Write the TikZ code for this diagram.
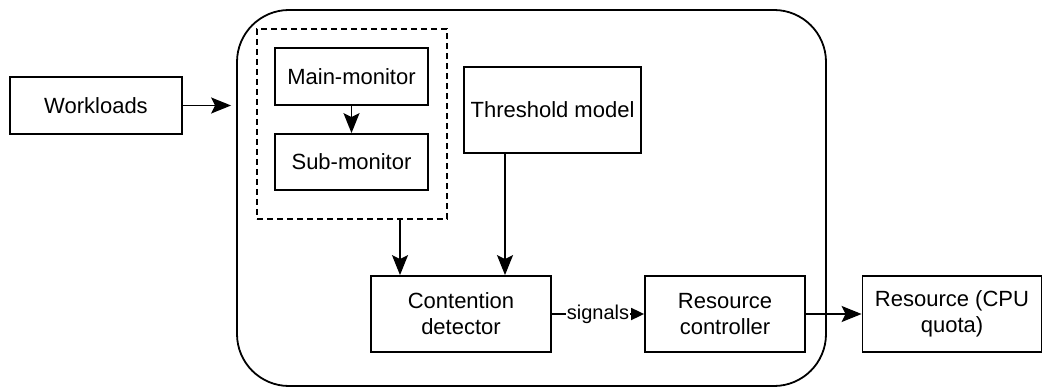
\documentclass[tikz,border=0pt]{standalone}
\usepackage{fontspec}
\setmainfont{Liberation Sans}
\usetikzlibrary{arrows.meta}
\tikzset{
	box/.style={draw,line width=1.8pt,align=center,inner sep=0pt},
	link/.style={line width=1.8pt,-{Stealth[length=20pt,width=16pt,inset=4pt]}},
}
\begin{document}
\begin{tikzpicture}[x=1pt,y=-1pt,font=\fontsize{22}{26}\selectfont]
		\useasboundingbox (0,0) rectangle (1043,387);
		\node[box,rounded corners=52pt,minimum width=589pt,minimum height=376pt] (host) at (531.5,198) {};
		\node[box,minimum width=172pt,minimum height=57pt] (work) at (96,105.5) {Workloads};
		\node[box,dash pattern=on 6pt off 4pt,minimum width=190pt,minimum height=190pt] (monitors) at (352,124) {};
		\node[box,minimum width=153pt,minimum height=57pt] (main) at (351.5,76.5) {Main-monitor};
		\node[box,minimum width=153pt,minimum height=56pt] (sub) at (351.5,162) {Sub-monitor};
		\node[box,minimum width=177pt,minimum height=86pt] (thresh) at (552.5,110) {Threshold model};
		\node[box,minimum width=180pt,minimum height=76pt] (detect) at (461,314) {Contention\\detector};
		\node[box,minimum width=160pt,minimum height=76pt] (ctrl) at (725,314) {Resource\\controller};
		\node[box,minimum width=179pt,minimum height=76pt] (quota) at (952,314) {Resource (CPU\\quota)};
		\coordinate (monout) at (400,219);
		\coordinate (throut) at (505,153);
		\draw[link,shorten >=5pt] (work.east) -- (work.east -| host.west);
		\draw[link] (main) -- (sub);
		\draw[link] (monout) -- (monout |- detect.north);
		\draw[link] (throut) -- (throut |- detect.north);
		\draw[line width=1.8pt,-{Triangle[length=13pt,width=12pt]}] (detect) -- node[fill=white,inner sep=1pt,font=\fontsize{20}{24}\selectfont] {signals} (ctrl);
		\draw[link] (ctrl) -- (quota);
	\end{tikzpicture}
\end{document}
